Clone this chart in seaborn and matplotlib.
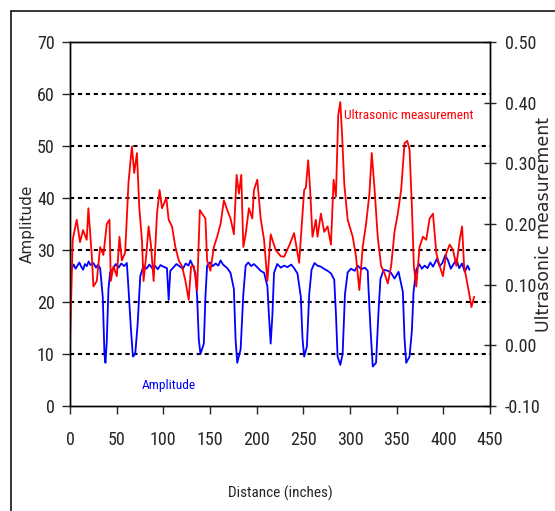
import matplotlib
matplotlib.use("Agg")
import matplotlib.pyplot as plt
from matplotlib.lines import Line2D
import seaborn as sns
import pandas as pd

# Amplitude trace (left axis), distance in inches
amp_distance = [
    0, 2, 4, 6, 8, 10, 12, 14, 16, 18,
    20, 22, 25, 28, 30, 32.3, 35.1, 36.9, 38.0, 39.4,
    41.2, 43.0, 46, 49, 52, 55, 58, 60.9, 62.7, 65.2,
    67.4, 69.9, 72.4, 75.3, 78.8, 82, 85, 88, 91, 94,
    97, 100, 103.9, 105.7, 107.5, 111, 114, 118, 121, 124,
    127, 129, 132, 134.4, 136.2, 138.0, 139.8, 143.4, 145.1, 146.9,
    150, 153, 156, 159, 161.3, 164, 168.5, 172.0, 175.6, 177.4,
    179.2, 182.8, 185.7, 188.2, 191, 194, 197, 200, 204.3, 208,
    211.5, 213.2, 215.0, 216.8, 218.6, 222, 226, 229.4, 233, 237,
    240.1, 243.7, 247.3, 249.1, 250.9, 253.8, 256.3, 258.8, 262, 265,
    268.8, 272, 276, 279.6, 283.1, 284.9, 286.7, 289.6, 292.1, 294.6,
    297.5, 301, 305, 308.2, 312, 316, 319.0, 319.7, 321.9, 324.4,
    327.9, 330.5, 332.6, 336, 340.5, 344, 347.7, 352, 356.6, 358.4,
    360.2, 363.8, 366.3, 368.1, 371.0, 374, 377, 380, 383, 386,
    389, 393, 396, 399, 402, 405, 408, 411, 414, 417,
    420, 423, 426, 428,
]
amplitude = [
    24.9, 26.5, 27.2, 26.4, 27.0, 27.6, 26.8, 26.2, 27.3, 26.9,
    27.8, 27.1, 27.5, 26.6, 27.2, 26.5, 21.0, 10.0, 8.3, 12.5,
    22.5, 25.7, 26.4, 27.3, 26.6, 27.4, 26.9, 27.5, 22.5, 15.0,
    9.5, 10.0, 15.6, 25.0, 27.0, 26.4, 27.2, 26.5, 27.0, 26.3,
    27.1, 26.8, 26.5, 20.4, 26.0, 26.7, 27.3, 26.8, 26.4, 27.4,
    27.0, 28.0, 26.8, 25.5, 21.0, 12.8, 10.0, 12.0, 21.0, 27.0,
    27.6, 26.9, 27.4, 27.0, 28.0, 27.2, 26.5, 25.6, 22.5, 12.8,
    8.3, 10.9, 21.5, 27.0, 27.6, 26.9, 27.3, 26.8, 26.0, 25.6,
    23.0, 17.3, 12.0, 17.3, 25.6, 27.3, 26.6, 27.0, 26.7, 27.2,
    26.5, 25.5, 21.0, 13.0, 9.5, 11.4, 21.5, 26.2, 27.5, 27.0,
    26.8, 26.4, 26.0, 25.5, 24.3, 17.9, 9.5, 7.9, 10.0, 21.5,
    25.7, 26.4, 26.0, 27.0, 26.3, 26.6, 26.0, 23.0, 15.0, 7.6,
    8.3, 18.0, 24.4, 26.2, 26.0, 25.6, 24.5, 25.8, 22.0, 13.0,
    8.3, 9.5, 14.5, 22.0, 26.2, 27.3, 26.4, 27.0, 26.5, 27.6,
    26.8, 28.3, 26.9, 27.5, 29.0, 28.0, 26.4, 27.3, 28.2, 26.5,
    27.4, 25.8, 27.0, 26.2,
]

# Ultrasonic trace (right axis)
ultra_distance = [
    0.0, 2.9, 7.2, 10.75, 14, 17.9, 19.7, 23.3, 25.1, 28.7,
    32.3, 35.8, 39.4, 42.3, 43.7, 46.6, 50.2, 53.0, 55.6, 59.1,
    62.7, 66.3, 68.8, 71.7, 74.2, 77.1, 78.8, 81.7, 84.2, 86.7,
    89.6, 93.2, 96.0, 98.6, 103.2, 105.7, 109.3, 112.9, 116.5, 120.1,
    123.7, 127.2, 129.7, 132.6, 136.2, 139.1, 141.6, 145.1, 146.9, 150.5,
    154.1, 157.7, 161.3, 164.9, 168.5, 172.0, 175.6, 178.5, 181.0, 183.5,
    185.7, 188.2, 191.7, 195.3, 197.1, 200.7, 204.3, 207.9, 211.5, 215.0,
    220.4, 225.8, 229.4, 235, 240.1, 245.5, 250.9, 252.7, 255.2, 257.3,
    259.8, 263.4, 265.2, 268.8, 272.4, 276.0, 279.6, 282.4, 284.9, 287.4,
    289.6, 291.4, 293.9, 297.5, 302.9, 306.4, 310.0, 313.6, 317.2, 320.8,
    323.3, 326.2, 329.7, 333.3, 336.9, 340.5, 344.1, 347.7, 351.2, 354.8,
    358.4, 361.3, 363.8, 366.3, 368.4, 371.0, 374.5, 378.1, 381.7, 385.3,
    388.9, 392.5, 396.0, 399.6, 403.2, 406.8, 410.4, 414.0, 417.5, 420.1,
    422.2, 424.7, 428.3, 430.1, 433.0,
]
ultrasonic = [
    0.000, 0.174, 0.207, 0.170, 0.190, 0.174, 0.226, 0.149, 0.097, 0.106,
    0.162, 0.149, 0.200, 0.207, 0.106, 0.130, 0.114, 0.179, 0.140, 0.153,
    0.269, 0.328, 0.284, 0.317, 0.228, 0.173, 0.106, 0.149, 0.196, 0.166,
    0.106, 0.217, 0.256, 0.226, 0.243, 0.207, 0.196, 0.162, 0.140, 0.130,
    0.106, 0.075, 0.130, 0.131, 0.091, 0.223, 0.217, 0.209, 0.140, 0.123,
    0.162, 0.179, 0.200, 0.239, 0.223, 0.209, 0.183, 0.281, 0.250, 0.281,
    0.162, 0.183, 0.226, 0.209, 0.256, 0.273, 0.209, 0.174, 0.106, 0.183,
    0.157, 0.147, 0.146, 0.165, 0.185, 0.136, 0.256, 0.260, 0.305, 0.256,
    0.179, 0.207, 0.179, 0.217, 0.187, 0.196, 0.166, 0.273, 0.245, 0.380,
    0.401, 0.351, 0.265, 0.207, 0.179, 0.147, 0.091, 0.162, 0.200, 0.250,
    0.317, 0.260, 0.179, 0.131, 0.119, 0.102, 0.131, 0.187, 0.217, 0.256,
    0.333, 0.337, 0.323, 0.229, 0.131, 0.097, 0.162, 0.179, 0.174, 0.209,
    0.217, 0.152, 0.131, 0.114, 0.152, 0.166, 0.157, 0.131, 0.174, 0.196,
    0.131, 0.110, 0.080, 0.063, 0.080,
]

left_ticks = [0, 10, 20, 30, 40, 50, 60, 70]
right_ticks = [-0.10, 0.00, 0.10, 0.20, 0.30, 0.40, 0.50]
x_ticks = [0, 50, 100, 150, 200, 250, 300, 350, 400, 450]


def main():
    sns.set_style("ticks")
    plt.rcParams['font.family'] = ['Roboto Condensed', 'Liberation Sans Narrow', 'DejaVu Sans']
    plt.rcParams['font.stretch'] = 'condensed'

    amp_df = pd.DataFrame({"Distance": amp_distance, "Amplitude": amplitude})
    ultra_df = pd.DataFrame({"Distance": ultra_distance, "Ultrasonic": ultrasonic})

    fig = plt.figure(figsize=(5.55, 5.11), dpi=100)
    ax = fig.add_axes([70 / 555, 105 / 511, 420 / 555, 364 / 511])
    ax2 = ax.twinx()

    sns.lineplot(data=amp_df, x="Distance", y="Amplitude", ax=ax, color="#0000ff", linewidth=1.3)
    sns.lineplot(data=ultra_df, x="Distance", y="Ultrasonic", ax=ax2, color="#ff0000", linewidth=1.3)

    ax.set_xlim(0, 450)
    ax.set_ylim(0, 70)
    ax2.set_ylim(-0.10, 0.50)
    ax.set_xticks(x_ticks)
    ax.set_yticks(left_ticks)
    ax2.set_yticks(right_ticks)
    ax2.set_yticklabels([f"{t:.2f}" for t in right_ticks])

    # dotted gridlines, skip the ones on the frame
    ax.grid(axis="y", color="black", linestyle=(0, (2, 1.8)), linewidth=1.5)
    gl = ax.get_ygridlines()
    gl[0].set_visible(False)
    gl[-1].set_visible(False)

    for a in (ax, ax2):
        for s in a.spines.values():
            s.set_visible(True)
            s.set_color("black")
            s.set_linewidth(1.0)

    ax.tick_params(axis="y", direction="out", length=6, width=1, pad=5, labelsize=13)
    ax.tick_params(axis="x", direction="out", length=6, width=1, pad=12, labelsize=13)
    ax2.tick_params(axis="y", direction="inout", length=9, width=1, pad=6, labelsize=13)

    ax.set_xlabel("Distance (inches)", fontsize=11)
    ax.xaxis.set_label_coords(0.5, -0.22)
    ax.set_ylabel("Amplitude", fontsize=11, family="DejaVu Sans", stretch="normal", va="center")
    ax.yaxis.set_label_coords(-0.102, 0.5)
    ax2.set_ylabel("Ultrasonic measurement", fontsize=12.5, family="DejaVu Sans",
                   stretch="normal", rotation=90, va="center")
    ax2.yaxis.set_label_coords(1.128, 0.5)

    ax.text(294, 55.8, "Ultrasonic measurement", color="#ff0000", fontsize=9.6,
            va="center", ha="left")
    ax.text(77, 4, "Amplitude", color="#0000ff", fontsize=9.6, va="center", ha="left")

    # chart area border (left and top edges only visible)
    fig.add_artist(Line2D([11 / 555, 11 / 555], [0, 500 / 511], color="black", linewidth=1.1))
    fig.add_artist(Line2D([11 / 555, 1], [500 / 511, 500 / 511], color="black", linewidth=1.1))

    fig.savefig("out.png", dpi=100)
    plt.close(fig)


if __name__ == "__main__":
    main()
